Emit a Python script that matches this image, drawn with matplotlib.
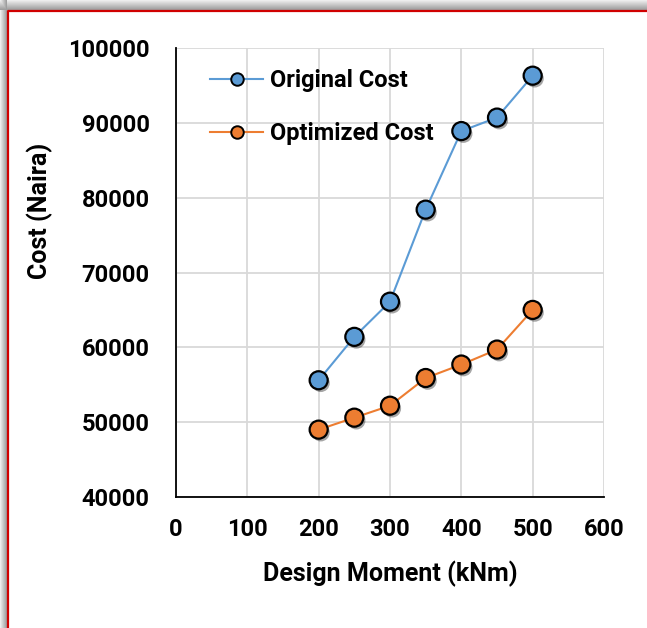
import numpy as np
import matplotlib
matplotlib.use("Agg")
import matplotlib.pyplot as plt
import matplotlib.patheffects as pe
from matplotlib.lines import Line2D

moment = [200, 250, 300, 350, 400, 450, 500]
original_cost = [55600, 61400, 66100, 78400, 88900, 90700, 96300]
optimized_cost = [49000, 50600, 52200, 55900, 57700, 59700, 65000]

plt.rcParams['font.family'] = ['Roboto', 'DejaVu Sans']
plt.rcParams['font.weight'] = 'bold'
plt.rcParams['axes.labelweight'] = 'bold'

W, H = 647, 628
fig = plt.figure(figsize=(W / 100, H / 100), dpi=100)
fig.patch.set_facecolor('white')

# grey drop shadow along the top and left of the frame
shade = np.ones((H, W, 3))
top = np.linspace(0.93, 0.62, 10)
left = np.linspace(0.93, 0.62, 7)
shade[:10, :, :] = top[:, None, None]
shade[:, :7, :] = np.minimum(shade[:, :7, :], left[None, :, None])
fig.figimage(shade, 0, 0, origin='upper', zorder=0)
fig.add_artist(Line2D([7.5 / W, 7.5 / W, 1], [0, 1 - 10.5 / H, 1 - 10.5 / H],
                      transform=fig.transFigure, color='#D00000', lw=1.6, zorder=1))

ax = fig.add_axes([176 / W, 1 - 497 / H, (604 - 176) / W, (497 - 48) / H])
ax.set_zorder(2)
ax.patch.set_alpha(0)
shadow = [pe.SimplePatchShadow(offset=(1.5, -2), shadow_rgbFace='black', alpha=0.35), pe.Normal()]

series = [(original_cost, '#5B9BD5', 'Original Cost'),
          (optimized_cost, '#ED7D31', 'Optimized Cost')]
for cost, col, name in series:
    ax.plot(moment, cost, color=col, lw=1.5, zorder=3)
    ax.plot(moment, cost, ls='none', marker='o', ms=13, mfc=col, mec='black',
            mew=1.6, zorder=4, path_effects=shadow)

handles = [Line2D([], [], color=col, lw=1.5, marker='o', ms=9, mfc=col,
                  mec='black', mew=1.4) for _, col, _ in series]
ax.legend(handles, [name for _, _, name in series], loc='upper left',
          bbox_to_anchor=(0.03, 1.0), frameon=False, fontsize=17,
          handlelength=2.25, handletextpad=0.3, labelspacing=1.25)

ax.set_xlim(0, 600)
ax.set_ylim(40000, 100000)
ax.set_xticks(range(0, 601, 100))
ax.set_yticks(range(40000, 100001, 10000))
ax.grid(True, color='#D9D9D9', lw=1.3)
ax.set_axisbelow(True)
for s in ['top', 'right']:
    ax.spines[s].set_visible(False)
for s in ['left', 'bottom']:
    ax.spines[s].set_linewidth(1.3)
ax.tick_params(length=0, labelsize=17)
ax.tick_params(axis='y', pad=19)
ax.tick_params(axis='x', pad=15)
ax.set_xlabel('Design Moment (kNm)', fontsize=18, labelpad=14)
ax.set_ylabel('Cost (Naira)', fontsize=18)
ax.yaxis.set_label_coords(-0.287, 0.637)

fig.savefig('out.png', dpi=100, facecolor=fig.get_facecolor())
